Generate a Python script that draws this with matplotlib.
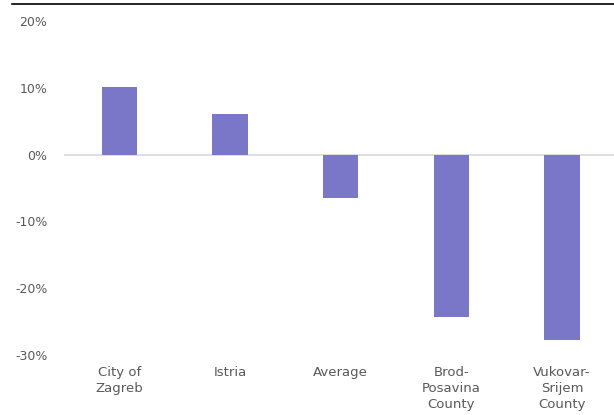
import numpy as np
import matplotlib.pyplot as plt
from matplotlib.ticker import PercentFormatter

# regions and change values (share)
regions = ["City of\nZagreb", "Istria", "Average", "Brod-\nPosavina\nCounty", "Vukovar-\nSrijem\nCounty"]
change = [0.101, 0.061, -0.065, -0.243, -0.278]

yticks = [-0.3, -0.2, -0.1, 0.0, 0.1, 0.2]

plt.rcParams["axes.unicode_minus"] = False

fig = plt.figure(figsize=(6.14, 4.15), dpi=100)
ax = fig.add_axes([64 / 614, 1 - 355 / 415, 1 - 64 / 614, (355 - 21) / 415])

x = np.arange(len(regions))
ax.bar(x, change, width=0.32, color="#7b77c8", zorder=2)
ax.axhline(0, color="#d9d9d9", linewidth=1.2, zorder=1)

ax.set_xlim(-0.5, len(regions) - 0.53)
ax.set_ylim(-0.3, 0.2)
ax.set_yticks(yticks)
ax.yaxis.set_major_formatter(PercentFormatter(1.0, decimals=0))
ax.set_xticks(x)
ax.set_xticklabels(regions, linespacing=1.3)

for s in ax.spines.values():
    s.set_visible(False)
ax.tick_params(axis="both", length=0, colors="#595959")
ax.tick_params(axis="y", labelsize=9, pad=12)
ax.tick_params(axis="x", labelsize=9.5, pad=8)

# black rule across the top
fig.add_artist(plt.Line2D([12 / 614, 1], [1 - 4 / 415, 1 - 4 / 415], color="black", linewidth=1.2))

fig.savefig("out.png", dpi=100)
